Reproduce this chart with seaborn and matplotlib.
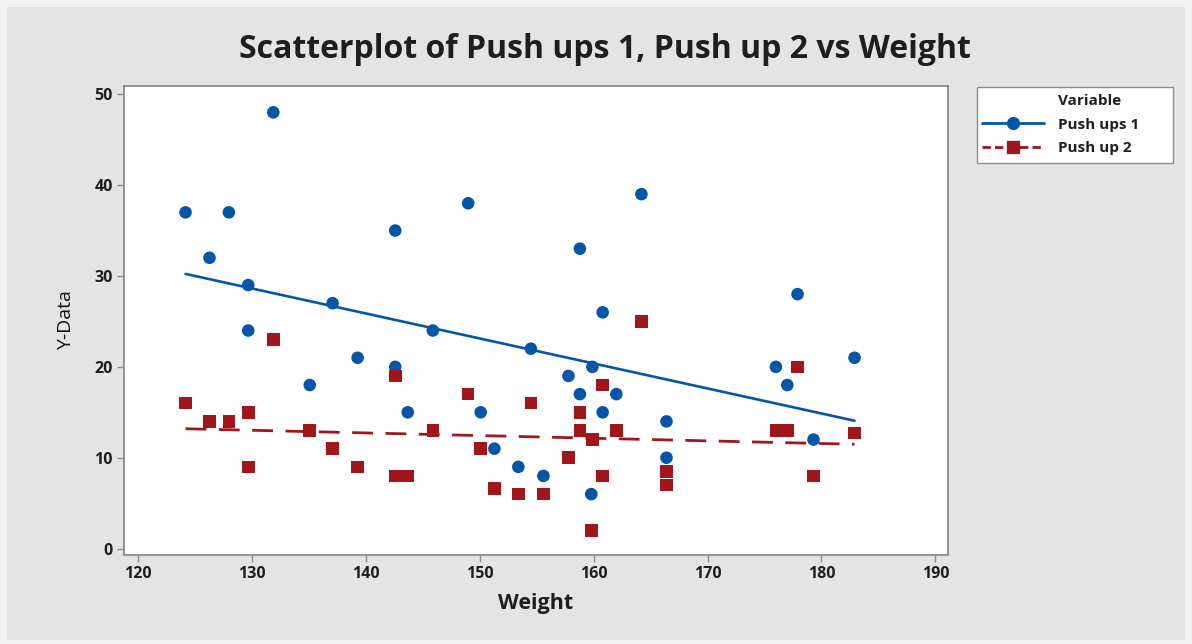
import numpy as np
import pandas as pd
import matplotlib
matplotlib.use("Agg")
import matplotlib.pyplot as plt
from matplotlib.lines import Line2D
from matplotlib.patches import Rectangle
import seaborn as sns

# Values
weight = [124.2, 126.3, 128.0, 129.7, 129.7, 131.9, 135.1, 137.1, 139.3, 142.6,
          142.6, 143.7, 145.9, 149.0, 150.1, 151.3, 153.4, 154.5, 155.6, 157.8,
          158.8, 158.8, 159.8, 159.9, 160.8, 160.8, 162.0, 164.2, 166.4, 166.4,
          176.0, 177.0, 177.9, 179.3, 182.9]
push_ups_1 = [37, 32, 37, 29, 24, 48, 18, 27, 21, 35,
              20, 15, 24, 38, 15, 11, 9, 22, 8, 19,
              17, 33, 6, 20, 26, 15, 17, 39, 14, 10,
              20, 18, 28, 12, 21]
push_up_2 = [16, 14, 14, 15, 9, 23, 13, 11, 9, 19,
             8, 8, 13, 17, 11, 6.6, 6, 16, 6, 10,
             15, 13, 2, 12, 18, 8, 13, 25, 8.5, 7,
             13, 13, 20, 8, 12.7]
series_names = ["Push ups 1", "Push up 2"]
x_ticks = [120, 130, 140, 150, 160, 170, 180, 190]
y_ticks = [0, 10, 20, 30, 40, 50]

BLUE = "#0457a8"
RED = "#a0161b"
TEXT = "#1e1e1e"
SPINE = "#8c8c8c"

W, H = 1192, 644


def build_frame():
    df1 = pd.DataFrame({"Weight": weight, "Y-Data": push_ups_1, "Variable": series_names[0]})
    df2 = pd.DataFrame({"Weight": weight, "Y-Data": push_up_2, "Variable": series_names[1]})
    return pd.concat([df1, df2], ignore_index=True)


def main():
    sns.set_theme(style="white")
    plt.rcParams["font.family"] = ["Open Sans", "DejaVu Sans"]

    df = build_frame()

    fig = plt.figure(figsize=(W / 100, H / 100), dpi=100)
    fig.patch.set_facecolor("#f2f2f2")
    fig.patches.append(Rectangle((7 / W, 4 / H), 1178 / W, 633 / H,
                                 transform=fig.transFigure, facecolor="#e4e4e4",
                                 edgecolor="none", zorder=-10))

    ax = fig.add_axes([124 / W, 1 - 555 / H, 824 / W, 469 / H])
    ax.set_facecolor("white")

    # fitted lines
    sns.regplot(x=weight, y=push_ups_1, scatter=False, ci=None, ax=ax,
                line_kws={"color": BLUE, "lw": 1.9, "zorder": 2})
    sns.regplot(x=weight, y=push_up_2, scatter=False, ci=None, ax=ax,
                line_kws={"color": RED, "lw": 2.0, "dashes": (7.5, 4.5), "zorder": 2})

    sns.scatterplot(data=df, x="Weight", y="Y-Data", hue="Variable", style="Variable",
                    palette={series_names[0]: BLUE, series_names[1]: RED},
                    markers={series_names[0]: "o", series_names[1]: "s"},
                    s=82, linewidth=0, legend=False, ax=ax, zorder=3)

    ax.set_xlim(118.8, 191.1)
    ax.set_ylim(-0.7, 50.9)
    ax.set_xticks(x_ticks)
    ax.set_yticks(y_ticks)

    for sp in ax.spines.values():
        sp.set_color(SPINE)
        sp.set_linewidth(1.3)

    ax.tick_params(axis="both", direction="out", length=5, width=1, color=SPINE,
                   labelsize=11.5, labelcolor=TEXT, pad=3, bottom=True, left=True)
    for lab in ax.get_xticklabels() + ax.get_yticklabels():
        lab.set_fontweight("bold")

    ax.set_xlabel("Weight", fontsize=15.5, fontweight="bold", color=TEXT, labelpad=8)
    ax.set_ylabel("Y-Data", fontsize=14, color="#111111", labelpad=14)

    fig.text(605 / W, 1 - 50 / H, "Scatterplot of Push ups 1, Push up 2 vs Weight",
             ha="center", va="center", fontsize=23, fontweight="bold", color=TEXT)

    # legend box drawn separately so it gets the reference size
    fig.patches.append(Rectangle((977 / W, 1 - 163 / H), 196 / W, 76 / H,
                                 transform=fig.transFigure, facecolor="white",
                                 edgecolor=SPINE, linewidth=1.0, zorder=5))
    handles = [
        Line2D([], [], linestyle="none", marker=None),
        Line2D([], [], color=BLUE, lw=2, marker="o", markersize=8.5),
        Line2D([], [], color=RED, lw=2, dashes=(3, 1.5), marker="s", markersize=8.5),
    ]
    labels = ["Variable", series_names[0], series_names[1]]
    leg = fig.legend(handles, labels, loc="upper left",
                     bbox_to_anchor=(977 / W, 1 - 89 / H), borderaxespad=0,
                     frameon=False, fontsize=11, handlelength=4.1,
                     handletextpad=0.9, labelspacing=0.65, borderpad=0.3)
    leg.set_zorder(6)
    for t in leg.get_texts():
        t.set_color(TEXT)
        t.set_fontweight("bold")

    fig.savefig("out.png", dpi=100, facecolor=fig.get_facecolor())
    plt.close(fig)


if __name__ == "__main__":
    main()
